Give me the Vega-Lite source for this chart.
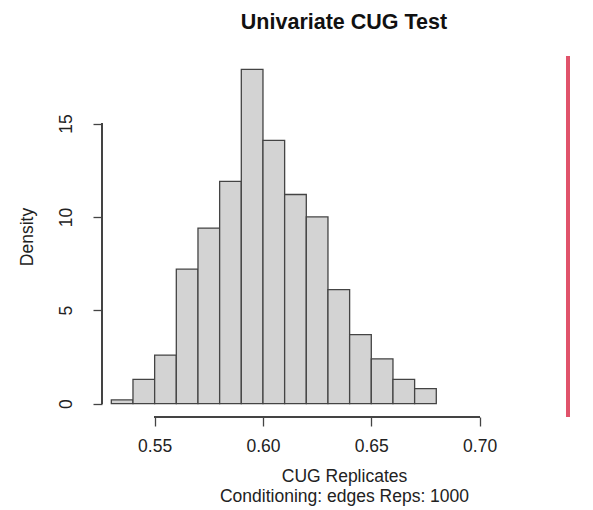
{
  "$schema": "https://vega.github.io/schema/vega-lite/v6.json",
  "width": 484,
  "height": 361,
  "autosize": {"type": "none"},
  "padding": {"left": 102, "top": 56, "right": 7, "bottom": 93},
  "background": "white",
  "config": {"view": {"stroke": null}, "font": "Liberation Sans"},
  "title": {
    "text": "Univariate CUG Test",
    "fontSize": 21.5,
    "fontWeight": "bold",
    "font": "Liberation Sans",
    "color": "#111",
    "anchor": "middle",
    "offset": 21
  },
  "data": {
    "values": [
      {"bin_start": 0.53, "bin_end": 0.54, "density": 0.2},
      {"bin_start": 0.54, "bin_end": 0.55, "density": 1.3},
      {"bin_start": 0.55, "bin_end": 0.56, "density": 2.6},
      {"bin_start": 0.56, "bin_end": 0.57, "density": 7.2},
      {"bin_start": 0.57, "bin_end": 0.58, "density": 9.4},
      {"bin_start": 0.58, "bin_end": 0.59, "density": 11.9},
      {"bin_start": 0.59, "bin_end": 0.60, "density": 17.9},
      {"bin_start": 0.60, "bin_end": 0.61, "density": 14.1},
      {"bin_start": 0.61, "bin_end": 0.62, "density": 11.2},
      {"bin_start": 0.62, "bin_end": 0.63, "density": 10.0},
      {"bin_start": 0.63, "bin_end": 0.64, "density": 6.1},
      {"bin_start": 0.64, "bin_end": 0.65, "density": 3.7},
      {"bin_start": 0.65, "bin_end": 0.66, "density": 2.4},
      {"bin_start": 0.66, "bin_end": 0.67, "density": 1.3},
      {"bin_start": 0.67, "bin_end": 0.68, "density": 0.8}
    ]
  },
  "layer": [
    {
      "mark": {"type": "bar", "fill": "#d3d3d3", "stroke": "#444", "strokeWidth": 1.3},
      "encoding": {
        "x": {
          "field": "bin_start",
          "type": "quantitative",
          "scale": {"domain": [0.5257, 0.7491], "nice": false, "zero": false},
          "axis": {
            "title": ["CUG Replicates", "Conditioning: edges Reps: 1000"],
            "values": [0.55, 0.6, 0.65, 0.7],
            "format": ".2f",
            "domain": false,
            "grid": false,
            "tickSize": 9,
            "tickColor": "#444",
            "tickWidth": 1.3,
            "labelFontSize": 17.5,
            "labelColor": "#222",
            "labelPadding": 11,
            "labelFlush": false,
            "titleFontSize": 17.5,
            "titleFontWeight": "normal",
            "titleColor": "#222",
            "titlePadding": 13,
            "titleLineHeight": 19.5
          }
        },
        "x2": {"field": "bin_end"},
        "y": {
          "field": "density",
          "type": "quantitative",
          "scale": {"domain": [-0.716, 18.616], "nice": false, "zero": false},
          "axis": {
            "title": "Density",
            "values": [0, 5, 10, 15],
            "domain": false,
            "grid": false,
            "tickSize": 9,
            "tickColor": "#444",
            "tickWidth": 1.3,
            "labelAngle": 270,
            "labelAlign": "center",
            "labelBaseline": "bottom",
            "labelFontSize": 17.5,
            "labelColor": "#222",
            "labelPadding": 18,
            "labelFlush": false,
            "titleFontSize": 17.5,
            "titleFontWeight": "normal",
            "titleColor": "#222",
            "titlePadding": 21
          }
        },
        "y2": {"datum": 0}
      }
    },
    {
      "mark": {"type": "rule", "stroke": "#444", "strokeWidth": 1.3},
      "encoding": {
        "x": {"datum": 0.55, "type": "quantitative"},
        "x2": {"datum": 0.70},
        "y": {"datum": -0.716, "type": "quantitative"}
      }
    },
    {
      "mark": {"type": "rule", "stroke": "#444", "strokeWidth": 1.3},
      "encoding": {
        "x": {"datum": 0.5257, "type": "quantitative"},
        "y": {"datum": 0, "type": "quantitative"},
        "y2": {"datum": 15}
      }
    },
    {
      "mark": {"type": "rule", "stroke": "#DF536B", "strokeWidth": 2.5},
      "encoding": {
        "x": {"datum": 0.7408, "type": "quantitative"}
      }
    }
  ]
}
